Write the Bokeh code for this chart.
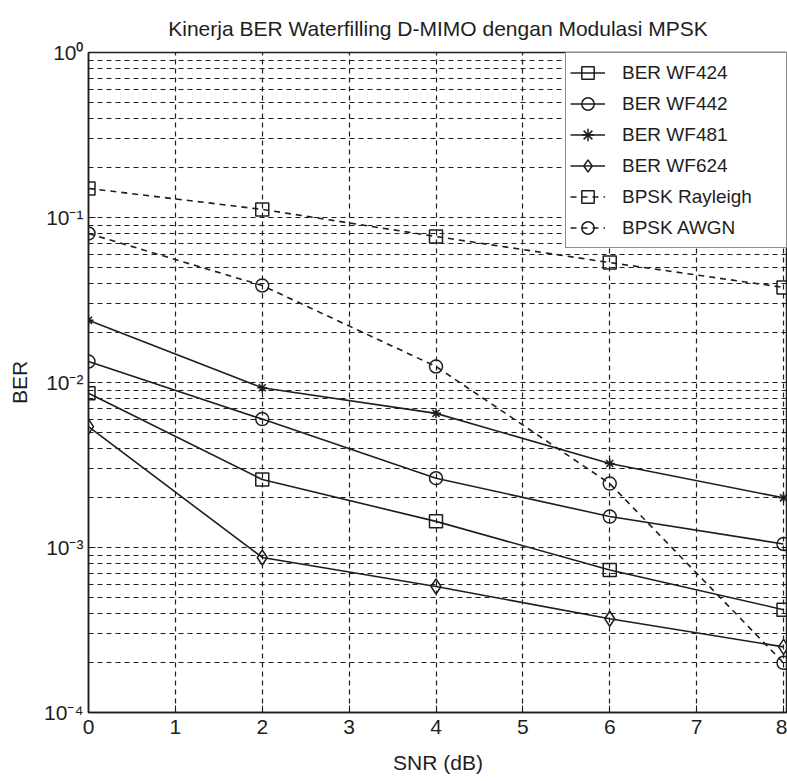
from bokeh.plotting import figure
from bokeh.models import Range1d, FixedTicker
from bokeh.embed import file_html
from bokeh.resources import INLINE

# ---- data ----
snr = [0, 2, 4, 6, 8]
ber_wf424 = [0.0086, 0.00258, 0.00144, 0.00073, 0.00042]
ber_wf442 = [0.0134, 0.0060, 0.00263, 0.00154, 0.00105]
ber_wf481 = [0.0238, 0.0093, 0.0065, 0.00323, 0.0020]
ber_wf624 = [0.0054, 0.00087, 0.00058, 0.00037, 0.00025]
bpsk_rayleigh = [0.150, 0.112, 0.0767, 0.0533, 0.0377]
bpsk_awgn = [0.080, 0.0387, 0.0125, 0.00244, 0.00020]

x_ticks = [0, 1, 2, 3, 4, 5, 6, 7, 8]
y_decades = [1.0, 0.1, 0.01, 0.001, 0.0001]
y_tick_labels = ["10⁰", "10⁻¹", "10⁻²", "10⁻³", "10⁻⁴"]

FONT = "Liberation Sans"
INK = "#1e1e1e"

p = figure(width=787, height=781, y_axis_type="log",
           x_range=Range1d(0, 8.046), y_range=Range1d(1e-4, 1.0),
           output_backend="svg", toolbar_location=None,
           title="Kinerja BER Waterfilling D-MIMO dengan Modulasi MPSK",
           min_border_left=88, min_border_right=0, min_border_top=52, min_border_bottom=69)

p.background_fill_color = "white"
p.border_fill_color = "white"
p.outline_line_color = INK
p.outline_line_width = 1.5

p.title.align = "center"
p.title.text_font = FONT
p.title.text_font_size = "21px"
p.title.text_font_style = "normal"
p.title.text_color = INK
p.title.standoff = 26

# ticks
minor = [m * d for d in y_decades[1:] for m in range(2, 10)]
p.yaxis.ticker = FixedTicker(ticks=y_decades, minor_ticks=minor)
p.yaxis.major_label_overrides = {d: lab for d, lab in zip(y_decades, y_tick_labels)}
p.xaxis.ticker = FixedTicker(ticks=x_ticks)

for ax in (p.xaxis, p.yaxis):
    ax.axis_line_color = INK
    ax.axis_line_width = 1.5
    ax.major_tick_in = 7
    ax.major_tick_out = 0
    ax.minor_tick_in = 4
    ax.minor_tick_out = 0
    ax.major_tick_line_color = INK
    ax.minor_tick_line_color = INK
    ax.major_label_text_font = FONT
    ax.major_label_text_font_size = "21px"
    ax.major_label_text_color = INK
    ax.axis_label_text_font = FONT
    ax.axis_label_text_font_size = "21px"
    ax.axis_label_text_font_style = "normal"
    ax.axis_label_text_color = INK
p.xaxis.minor_tick_line_color = None

p.xaxis.axis_label = "SNR (dB)"
p.yaxis.axis_label = "BER"
p.xaxis.major_label_standoff = 7
p.xaxis.axis_label_standoff = 14
p.yaxis.major_label_standoff = 5
p.yaxis.axis_label_standoff = 10

# grid
for g in (p.xgrid, p.ygrid):
    g.grid_line_color = INK
    g.grid_line_dash = "5 4"
    g.grid_line_width = 1.2
p.ygrid.minor_grid_line_color = INK
p.ygrid.minor_grid_line_dash = "5 4"
p.ygrid.minor_grid_line_width = 1.2

series = [
    ("BER WF424", ber_wf424, "square", "solid", 13),
    ("BER WF442", ber_wf442, "circle", "solid", 13),
    ("BER WF481", ber_wf481, "asterisk", "solid", 10),
    ("BER WF624", ber_wf624, "diamond", "solid", 15),
    ("BPSK Rayleigh", bpsk_rayleigh, "square", "6 5", 13),
    ("BPSK AWGN", bpsk_awgn, "circle", "6 5", 13),
]
for name, ys, marker, dash, size in series:
    p.line(snr, ys, line_color=INK, line_width=1.6, line_dash=dash, legend_label=name)
    p.scatter(snr, ys, marker=marker, size=size, line_color=INK, line_width=1.5,
              fill_alpha=0, legend_label=name)

lg = p.legend[0]
lg.location = "top_right"
lg.margin = 0
lg.padding = 4
lg.spacing = 0
lg.glyph_width = 35
lg.glyph_height = 31
lg.label_height = 31
lg.label_standoff = 17
lg.label_width = 160
lg.label_text_font = FONT
lg.label_text_font_size = "19px"
lg.label_text_color = INK
lg.border_line_color = INK
lg.border_line_width = 1.5
lg.background_fill_color = "white"
lg.background_fill_alpha = 1.0

open("out.html", "w").write(file_html(p, INLINE))
